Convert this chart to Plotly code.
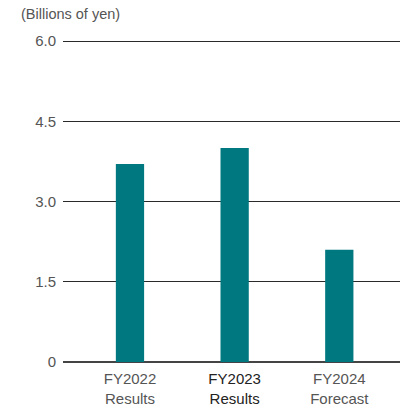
import plotly.graph_objects as go

categories = ["FY2022<br>Results", "FY2023<br>Results", "FY2024<br>Forecast"]
values = [3.7, 4.0, 2.1]
y_ticks = [0, 1.5, 3.0, 4.5, 6.0]
y_tick_labels = ["0", "1.5", "3.0", "4.5", "6.0"]

tick_text = [
    categories[0],
    '<span style="color:#222222">' + categories[1] + '</span>',
    categories[2],
]

fig = go.Figure(go.Bar(
    x=list(range(len(categories))),
    y=values,
    width=0.27,
    marker=dict(color="#007880", line=dict(width=0)),
))

fig.update_layout(
    width=417, height=406,
    margin=dict(l=63, r=17, t=38, b=44),
    plot_bgcolor="white", paper_bgcolor="white",
    font=dict(family="Liberation Sans, Arial, sans-serif", size=15, color="#555555"),
    showlegend=False,
    annotations=[dict(
        text="(Billions of yen)", xref="paper", yref="paper",
        x=-0.13, y=1.0, xanchor="left", yanchor="bottom", yshift=14,
        showarrow=False, font=dict(size=14.5, color="#555555"),
    )],
)
fig.update_xaxes(
    range=[-0.64, 2.58],
    tickvals=list(range(len(categories))), ticktext=tick_text,
    showgrid=False, zeroline=False, showline=False, ticks="",
    ticklabelstandoff=6, fixedrange=True, automargin=False,
)
fig.update_yaxes(
    range=[0, 6.056], tickvals=y_ticks, ticktext=y_tick_labels,
    showgrid=True, gridcolor="#2a2a2a", gridwidth=1,
    zeroline=True, zerolinecolor="#444444", zerolinewidth=1.5,
    showline=False, ticks="", ticklabelstandoff=6, fixedrange=True,
    automargin=False,
)
fig.write_html("out.html", post_script="document.body.style.margin='0';",
               config={"displayModeBar": False})
